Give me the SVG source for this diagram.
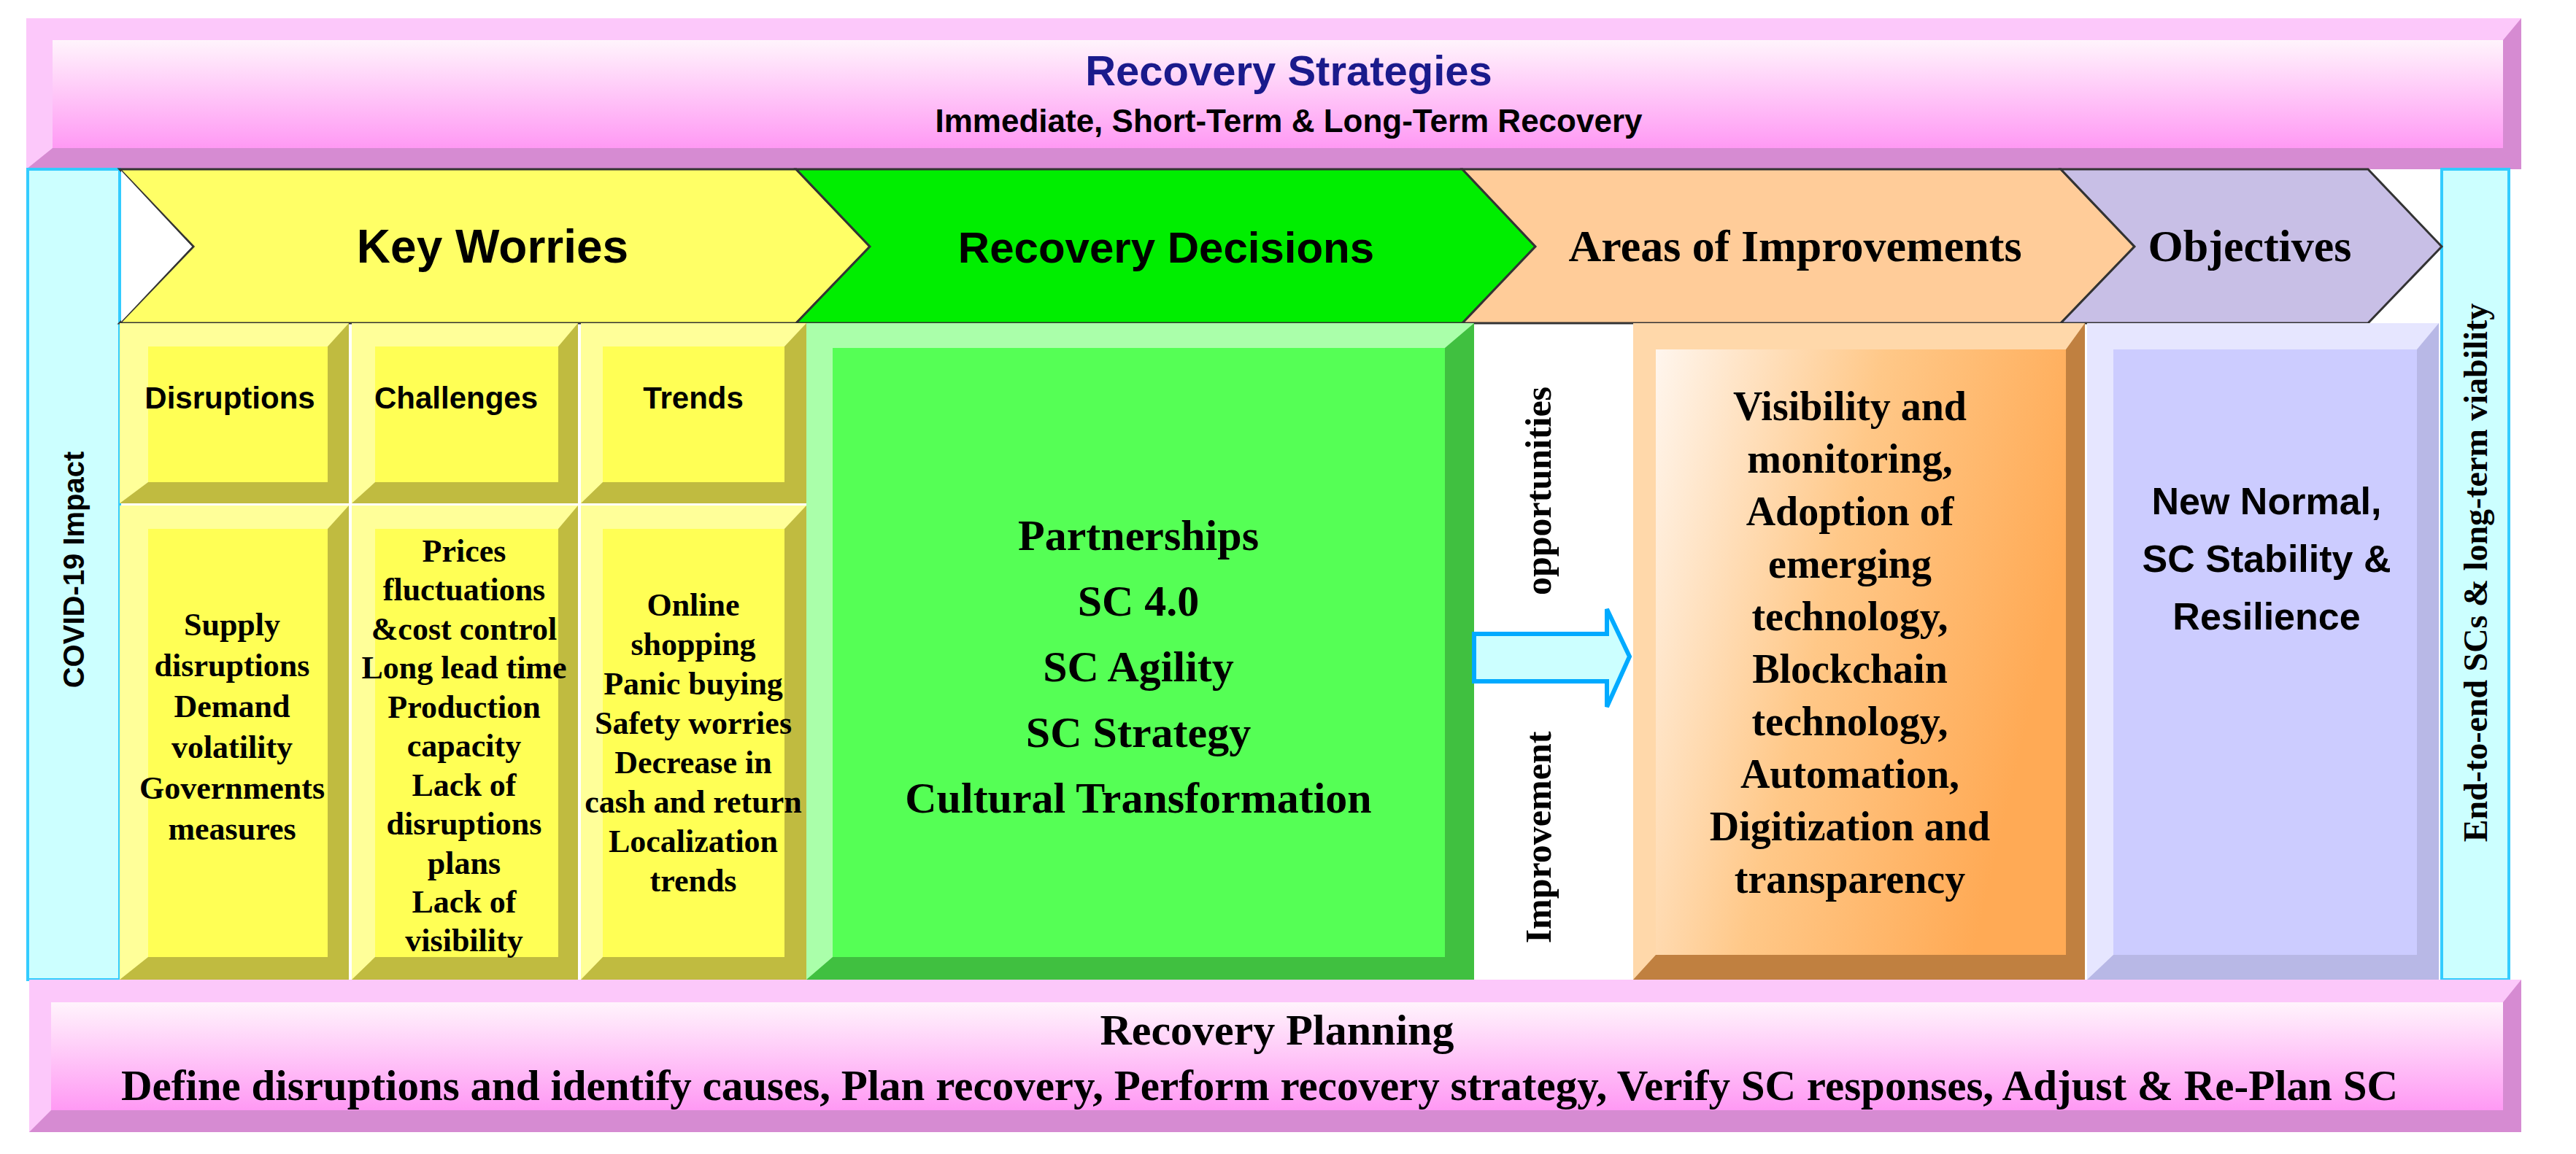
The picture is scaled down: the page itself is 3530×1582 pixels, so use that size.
<svg xmlns="http://www.w3.org/2000/svg" width="3530" height="1582" viewBox="0 0 3530 1582">
<style>
.a{font-family:"Liberation Sans",Arial,sans-serif;font-weight:bold;fill:#000;text-anchor:middle}
.t{font-family:"Liberation Serif","Times New Roman",serif;font-weight:bold;fill:#000;text-anchor:middle}
.chev{stroke:#333;stroke-width:3}
</style>
<defs>
<linearGradient id="pink" x1="0" y1="0" x2="0" y2="1"><stop offset="0" stop-color="#fff4fc"/><stop offset="1" stop-color="#ff99f4"/></linearGradient>
<linearGradient id="org" x1="0" y1="0" x2="1" y2="0.35"><stop offset="0" stop-color="#fff6ee"/><stop offset="0.5" stop-color="#ffc888"/><stop offset="1" stop-color="#ffaa55"/></linearGradient>
</defs>
<rect width="3530" height="1582" fill="#fff"/>
<g id="recovery-strategies">
<rect x="36" y="25" width="3419" height="207" fill="#fcc8fa"/>
<polygon points="3455,25 3455,232 36,232 72,203 3430,203 3430,55" fill="#d68bd2"/>
<rect x="72" y="55" width="3358" height="148" fill="url(#pink)"/>
<text class="a" x="1766" y="117" font-size="58" style="fill:#1a1a8c">Recovery Strategies</text>
<text class="a" x="1766" y="181" font-size="44">Immediate, Short-Term &amp; Long-Term Recovery</text>
</g>
<g id="covid-impact">
<rect x="38" y="232" width="126" height="1111" fill="#ccffff" stroke="#33ccff" stroke-width="4"/>
<text class="a" font-size="40" transform="translate(115,781) rotate(-90)">COVID-19 Impact</text>
</g>
<g id="viability">
<rect x="3346" y="232" width="92" height="1111" fill="#ccffff" stroke="#33ccff" stroke-width="4"/>
<text class="t" font-size="46" transform="translate(3408,785) rotate(-90)">End-to-end SCs &amp;  long-term viability</text>
</g>
<g id="chevrons">
<polygon class="chev" points="164,232 1091,232 1192,338 1091,443 164,443 265,338" fill="#ffff66"/>
<polygon points="166,234 263,338 166,441" fill="#fff"/>
<text class="a" x="675" y="360" font-size="64">Key Worries</text>
<polygon class="chev" points="1091,232 2004,232 2104,338 2004,443 1091,443 1192,338" fill="#00ee00"/>
<text class="a" x="1598" y="360" font-size="60">Recovery Decisions</text>
<polygon class="chev" points="2004,232 2824,232 2925,338 2824,443 2004,443 2104,338" fill="#ffcc99"/>
<text class="t" x="2460" y="358" font-size="62">Areas of Improvements</text>
<polygon class="chev" points="2824,232 3245,232 3346,338 3245,443 2824,443 2925,338" fill="#c8bfe6"/>
<text class="t" x="3083" y="358" font-size="62">Objectives</text>
</g>
<g id="disruptions-head">
<rect x="164" y="443" width="314" height="247" fill="#ffff99"/>
<polygon points="478,443 478,690 164,690 203,661 449,661 449,475" fill="#c0bb40"/>
<rect x="203" y="475" width="246" height="186" fill="#ffff55"/>
<text class="a" x="315" y="560" font-size="42">Disruptions</text>
</g>
<g id="challenges-head">
<rect x="482" y="443" width="310" height="247" fill="#ffff99"/>
<polygon points="792,443 792,690 482,690 514,661 765,661 765,475" fill="#c0bb40"/>
<rect x="514" y="475" width="251" height="186" fill="#ffff55"/>
<text class="a" x="625" y="560" font-size="42">Challenges</text>
</g>
<g id="trends-head">
<rect x="796" y="443" width="309" height="247" fill="#ffff99"/>
<polygon points="1105,443 1105,690 796,690 826,661 1075,661 1075,475" fill="#c0bb40"/>
<rect x="826" y="475" width="249" height="186" fill="#ffff55"/>
<text class="a" x="950" y="560" font-size="42">Trends</text>
</g>
<g id="disruptions-body">
<rect x="164" y="693" width="314" height="650" fill="#ffff99"/>
<polygon points="478,693 478,1343 164,1343 203,1312 449,1312 449,725" fill="#c0bb40"/>
<rect x="203" y="725" width="246" height="587" fill="#ffff55"/>
<g class="t" font-size="44">
<text x="318" y="871">Supply</text><text x="318" y="927">disruptions</text><text x="318" y="983">Demand</text><text x="318" y="1039">volatility</text><text x="318" y="1095">Governments</text><text x="318" y="1151">measures</text>
</g>
</g>
<g id="challenges-body">
<rect x="482" y="693" width="310" height="650" fill="#ffff99"/>
<polygon points="792,693 792,1343 482,1343 514,1312 765,1312 765,725" fill="#c0bb40"/>
<rect x="514" y="725" width="251" height="587" fill="#ffff55"/>
<g class="t" font-size="44">
<text x="636" y="770">Prices</text><text x="636" y="823">fluctuations</text><text x="636" y="877">&amp;cost control</text><text x="636" y="930">Long lead time</text><text x="636" y="984">Production</text><text x="636" y="1037">capacity</text><text x="636" y="1091">Lack of</text><text x="636" y="1144">disruptions</text><text x="636" y="1198">plans</text><text x="636" y="1251">Lack of</text><text x="636" y="1304">visibility</text>
</g>
</g>
<g id="trends-body">
<rect x="796" y="693" width="309" height="650" fill="#ffff99"/>
<polygon points="1105,693 1105,1343 796,1343 826,1312 1075,1312 1075,725" fill="#c0bb40"/>
<rect x="826" y="725" width="249" height="587" fill="#ffff55"/>
<g class="t" font-size="44">
<text x="950" y="844">Online</text><text x="950" y="898">shopping</text><text x="950" y="952">Panic buying</text><text x="950" y="1006">Safety worries</text><text x="950" y="1060">Decrease in</text><text x="950" y="1114">cash and return</text><text x="950" y="1168">Localization</text><text x="950" y="1222">trends</text>
</g>
</g>
<g id="recovery-decisions">
<rect x="1105" y="443" width="915" height="900" fill="#aaffaa"/>
<polygon points="2020,443 2020,1343 1105,1343 1141,1312 1980,1312 1980,477" fill="#40c040"/>
<rect x="1141" y="477" width="839" height="835" fill="#55ff55"/>
<g class="t" font-size="60">
<text x="1560" y="754">Partnerships</text><text x="1560" y="844">SC 4.0</text><text x="1560" y="934">SC Agility</text><text x="1560" y="1024">SC Strategy</text><text x="1560" y="1114">Cultural Transformation</text>
</g>
</g>
<g id="improvement-opportunities">
<text class="t" font-size="50" transform="translate(2125,673) rotate(-90)">opportunities</text>
<text class="t" font-size="50" transform="translate(2125,1148) rotate(-90)">Improvement</text>
</g>
<g id="connectors">
<polygon points="2020,869 2202,869 2202,835 2233,900 2202,969 2202,934 2020,934" fill="#ccffff" stroke="#00aaff" stroke-width="6" stroke-linejoin="miter"/>
</g>
<g id="areas-of-improvements">
<rect x="2238" y="443" width="619" height="900" fill="#ffd8aa"/>
<polygon points="2857,443 2857,1343 2238,1343 2269,1309 2831,1309 2831,479" fill="#c08040"/>
<rect x="2269" y="479" width="562" height="830" fill="url(#org)"/>
<g class="t" font-size="56">
<text x="2535" y="576">Visibility and</text><text x="2535" y="648">monitoring,</text><text x="2535" y="720">Adoption of</text><text x="2535" y="792">emerging</text><text x="2535" y="864">technology,</text><text x="2535" y="936">Blockchain</text><text x="2535" y="1008">technology,</text><text x="2535" y="1080">Automation,</text><text x="2535" y="1152">Digitization and</text><text x="2535" y="1224">transparency</text>
</g>
</g>
<g id="objectives">
<rect x="2860" y="443" width="482" height="900" fill="#e6e6ff"/>
<polygon points="3342,443 3342,1343 2860,1343 2896,1309 3312,1309 3312,479" fill="#b8b8e6"/>
<rect x="2896" y="479" width="416" height="830" fill="#ccccff"/>
<g class="a" font-size="52">
<text x="3106" y="705">New Normal,</text><text x="3106" y="784">SC Stability &amp;</text><text x="3106" y="863">Resilience</text>
</g>
</g>
<g id="recovery-planning">
<rect x="40" y="1343" width="3415" height="209" fill="#fcc8fa"/>
<polygon points="3455,1343 3455,1552 40,1552 70,1522 3430,1522 3430,1374" fill="#d68bd2"/>
<rect x="70" y="1374" width="3360" height="148" fill="url(#pink)"/>
<text class="t" x="1750" y="1432" font-size="60">Recovery Planning</text>
<text class="t" x="1726" y="1508" font-size="59">Define disruptions and identify causes, Plan recovery, Perform recovery strategy, Verify SC responses, Adjust &amp; Re-Plan SC</text>
</g>
</svg>
